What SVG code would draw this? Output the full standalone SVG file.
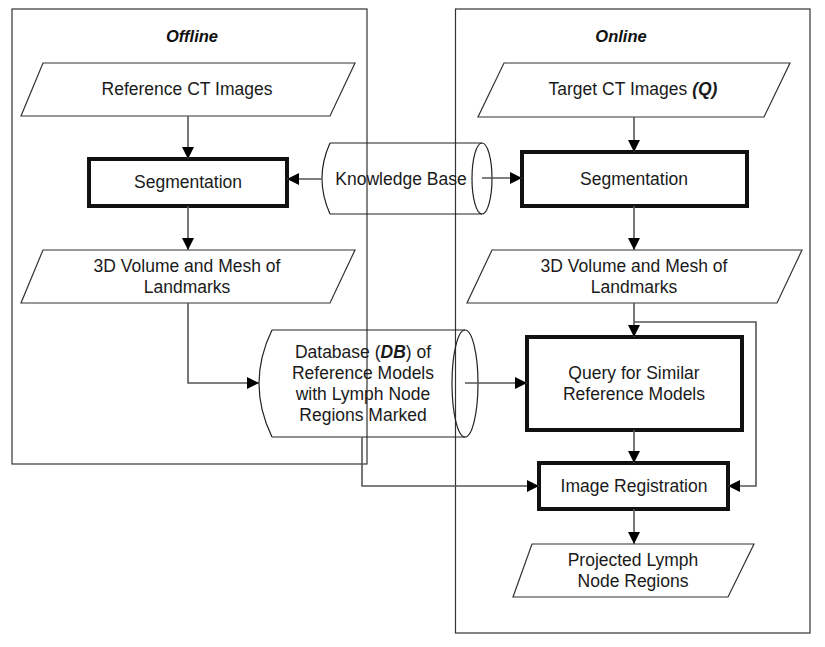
<svg xmlns="http://www.w3.org/2000/svg" width="825" height="647" viewBox="0 0 825 647">
<defs>
<style>
.t{font-family:"Liberation Sans",Arial,sans-serif;font-size:17.5px;fill:#1a1a1a;text-anchor:middle}
.h{font-family:"Liberation Sans",Arial,sans-serif;font-size:16.5px;font-weight:bold;font-style:italic;fill:#111;text-anchor:middle}
.frame{fill:none;stroke:#333;stroke-width:1.2}
.para{fill:#fff;stroke:#333;stroke-width:1.2}
.proc{fill:#fff;stroke:#111;stroke-width:4}
.cyl{fill:none;stroke:#222;stroke-width:1.2}
.c{fill:none;stroke:#555;stroke-width:1.6}
</style>
<marker id="ah" viewBox="0 0 12 12" refX="12" refY="6" markerWidth="12" markerHeight="12" markerUnits="userSpaceOnUse" orient="auto">
<path d="M0,0 L12,6 L0,12 Z" fill="#000"/>
</marker>
</defs>
<rect width="825" height="647" fill="#fff"/>

<g id="offline-frame">
<rect class="frame" x="12" y="9" width="355" height="455"/>
<text class="h" x="192" y="42">Offline</text>
</g>
<g id="online-frame">
<rect class="frame" x="455.5" y="9" width="354.5" height="624"/>
<text class="h" x="621" y="42">Online</text>
</g>

<g id="ref-ct">
<polygon class="para" points="43,63 355,63 330,116 21,116"/>
<text class="t" x="187" y="95">Reference CT Images</text>
</g>
<g id="seg-off">
<rect class="proc" x="89" y="159" width="198" height="47"/>
<text class="t" x="188" y="188">Segmentation</text>
</g>
<g id="vol-off">
<polygon class="para" points="43,250 355,250 330,303 21,303"/>
<text class="t" x="187" y="272">3D Volume and Mesh of</text>
<text class="t" x="187" y="293">Landmarks</text>
</g>

<g id="target-ct">
<polygon class="para" points="504,63 790,63 764,117 478,117"/>
<text class="t" x="633" y="95">Target CT Images <tspan font-weight="bold" font-style="italic">(Q)</tspan></text>
</g>
<g id="seg-on">
<rect class="proc" x="522" y="152" width="225" height="54"/>
<text class="t" x="634" y="185">Segmentation</text>
</g>
<g id="vol-on">
<polygon class="para" points="492,250 802,250 777,303 467,303"/>
<text class="t" x="634" y="272">3D Volume and Mesh of</text>
<text class="t" x="634" y="293">Landmarks</text>
</g>
<g id="query">
<rect class="proc" x="527" y="337" width="215" height="93"/>
<text class="t" x="634" y="379">Query for Similar</text>
<text class="t" x="634" y="400">Reference Models</text>
</g>
<g id="imgreg">
<rect class="proc" x="539" y="463" width="189" height="46"/>
<text class="t" x="634" y="492">Image Registration</text>
</g>
<g id="projected">
<polygon class="para" points="532,544 754,544 728,597 513,597"/>
<text class="t" x="633" y="566">Projected Lymph</text>
<text class="t" x="633" y="587">Node Regions</text>
</g>

<g id="knowledge-base">
<path class="cyl" d="M330,143 L482,143 M330,214 L482,214 M330,143 Q314,178.5 330,214"/>
<ellipse class="cyl" cx="482" cy="178.5" rx="10" ry="35.5"/>
<text class="t" x="401" y="185">Knowledge Base</text>
</g>
<g id="database">
<path class="cyl" d="M272,330 L465,330 M272,437 L465,437 M272,330 Q246,383.5 272,437"/>
<ellipse class="cyl" cx="465" cy="383.5" rx="13" ry="53.5"/>
<text class="t" x="363" y="358"><tspan>Database (</tspan><tspan font-weight="bold" font-style="italic">DB</tspan><tspan>) of</tspan></text>
<text class="t" x="363" y="379">Reference Models</text>
<text class="t" x="363" y="400">with Lymph Node</text>
<text class="t" x="363" y="421">Regions Marked</text>
</g>

<g id="connectors">
<path class="c" d="M188,116 V159" marker-end="url(#ah)"/>
<path class="c" d="M188,206 V250" marker-end="url(#ah)"/>
<path class="c" d="M322,179 H287" marker-end="url(#ah)"/>
<path class="c" d="M482,178 H522" marker-end="url(#ah)"/>
<path class="c" d="M634,117 V152" marker-end="url(#ah)"/>
<path class="c" d="M634,206 V250" marker-end="url(#ah)"/>
<path class="c" d="M188,303 V383 H259" marker-end="url(#ah)"/>
<path class="c" d="M465,383 H527" marker-end="url(#ah)"/>
<path class="c" d="M634,303 V337" marker-end="url(#ah)"/>
<path class="c" d="M634,322 H756 V486 H728" marker-end="url(#ah)"/>
<path class="c" d="M634,430 V463" marker-end="url(#ah)"/>
<path class="c" d="M362,437 V486 H539" marker-end="url(#ah)"/>
<path class="c" d="M634,509 V544" marker-end="url(#ah)"/>
</g>
</svg>
